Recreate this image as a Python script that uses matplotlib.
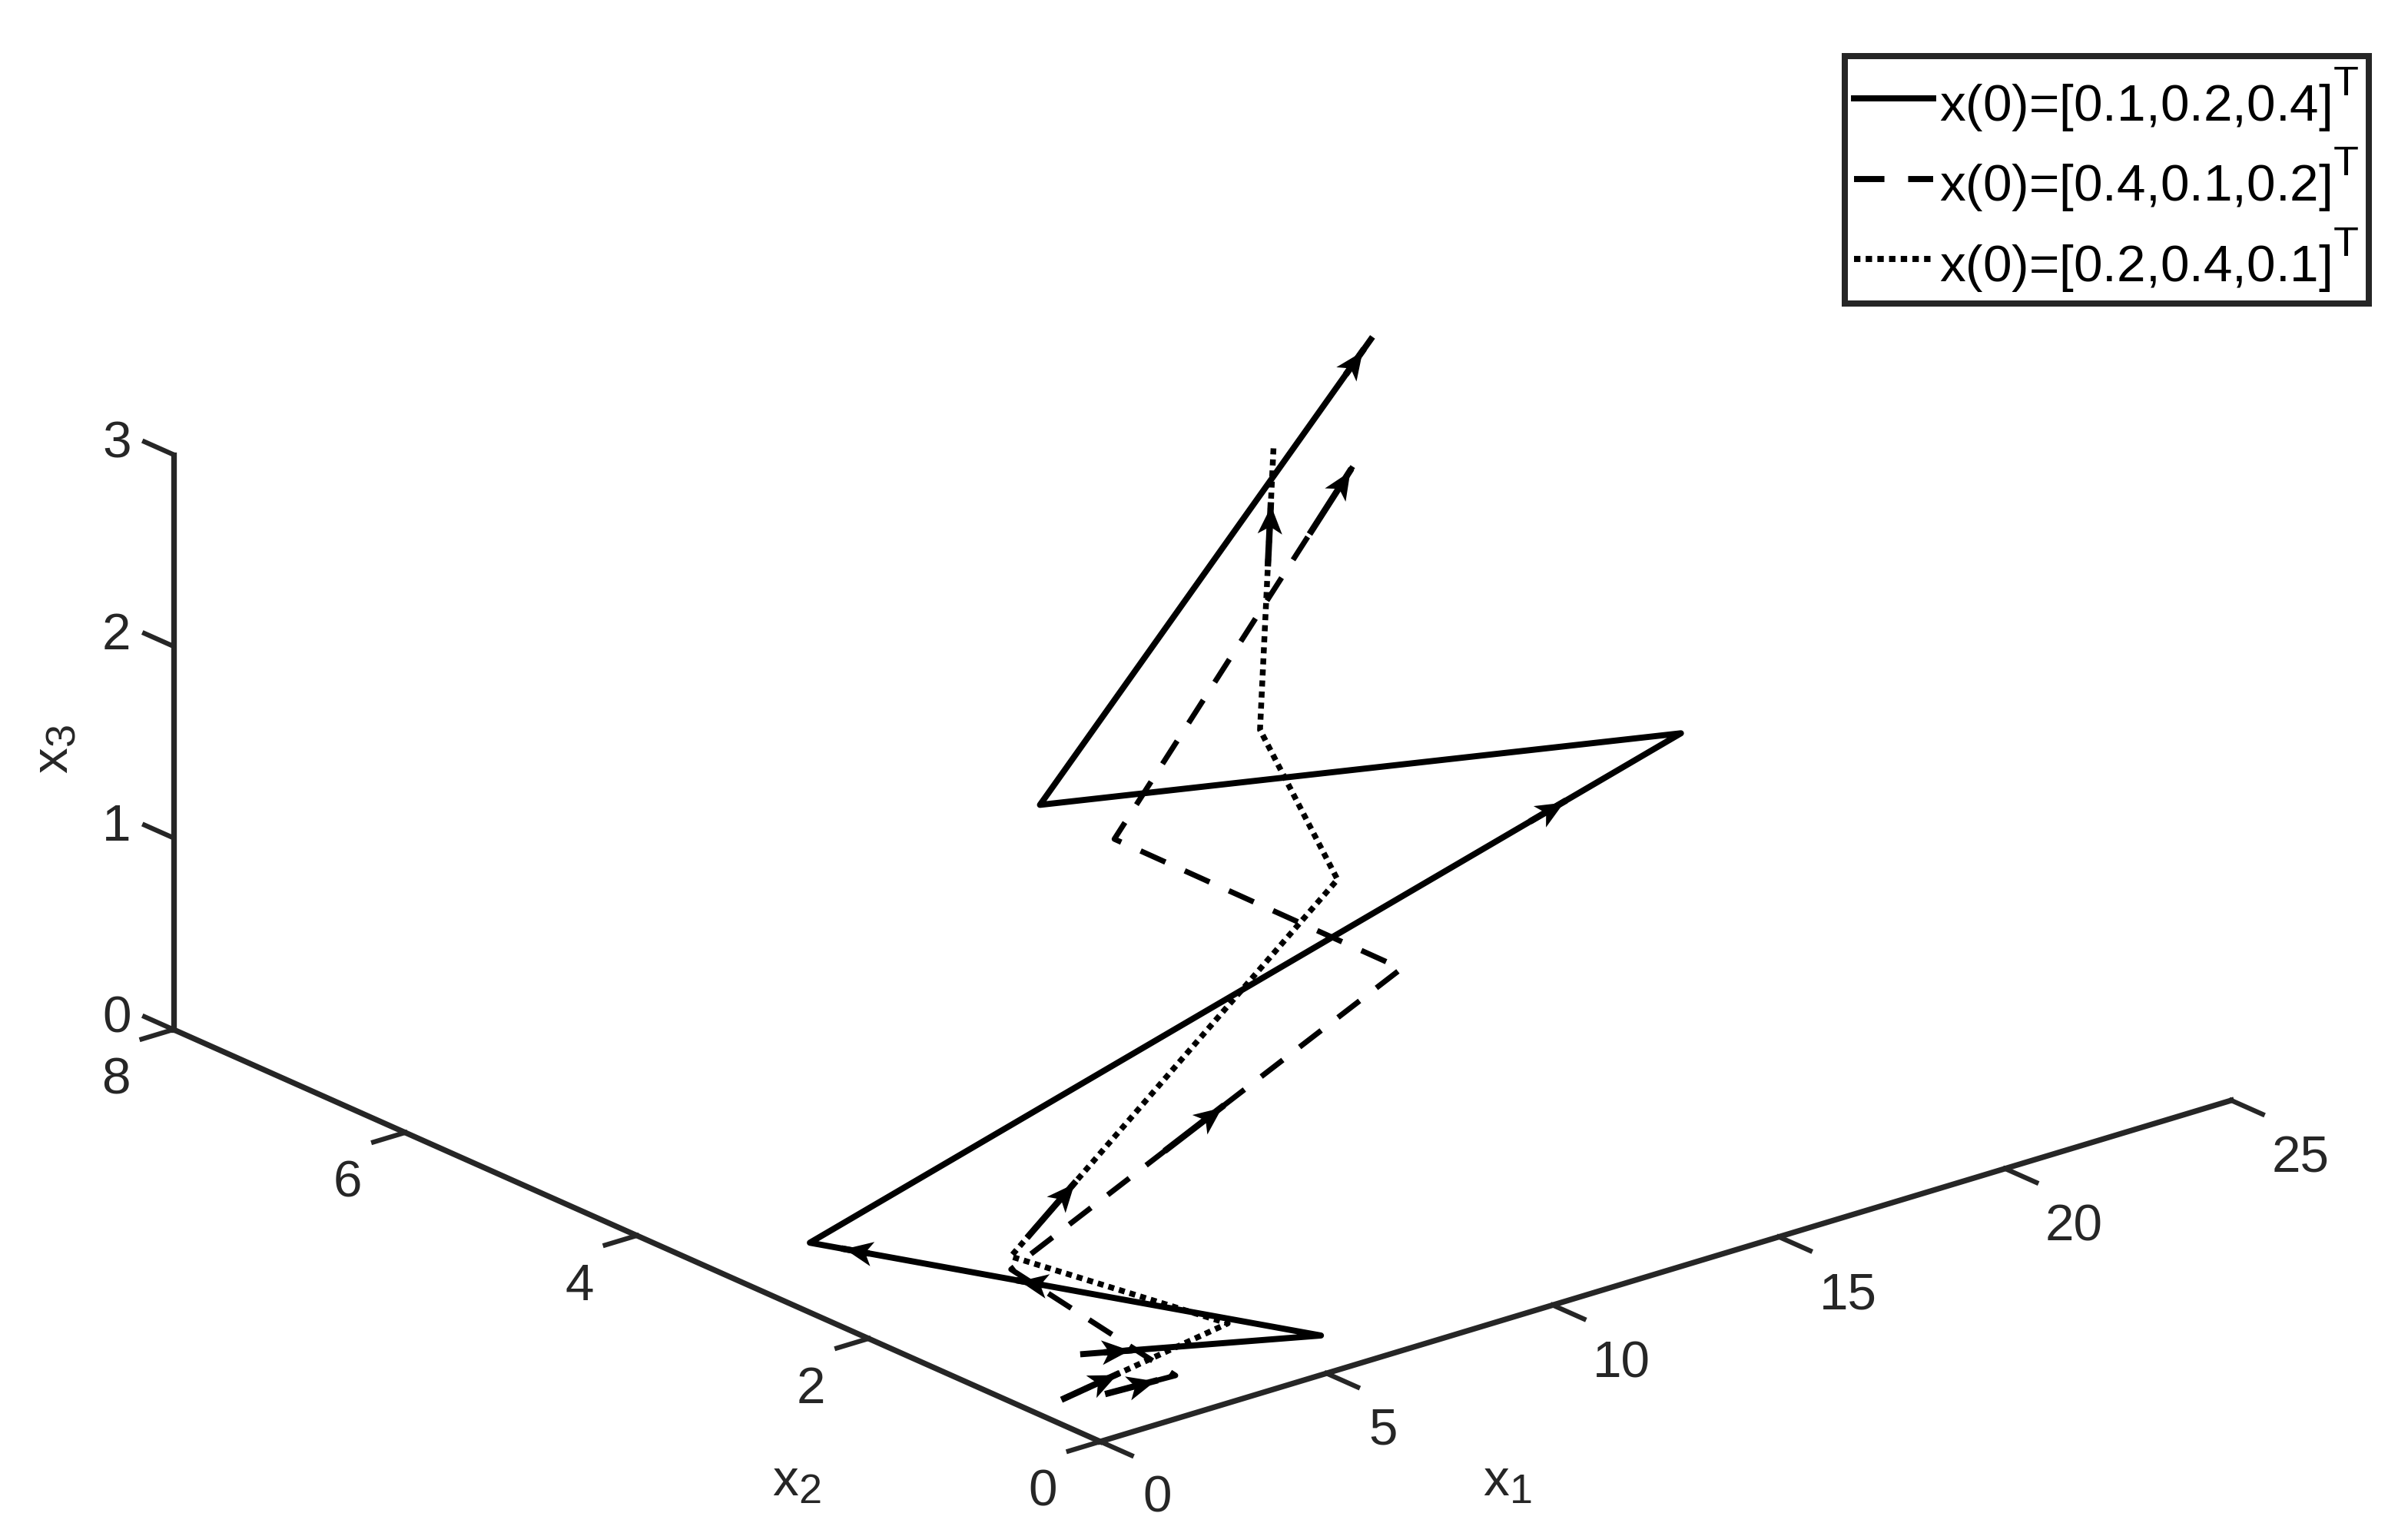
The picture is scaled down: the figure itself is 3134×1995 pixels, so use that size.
import numpy as np
import matplotlib
matplotlib.use("Agg")
import matplotlib._mathtext
import matplotlib.pyplot as plt
from matplotlib.markers import MarkerStyle
from matplotlib.path import Path
from matplotlib.transforms import Affine2D
from mpl_toolkits.mplot3d import proj3d

# trajectories
solid_x1 = [1.80, 5.48, 0.93, 22.95, 9.55, 19.18]
solid_x2 = [0.85, 0.235, 2.87, 3.95, 4.25, 5.155]
solid_x3 = [0.1, 0.1, 0.2, 1.0, 1.5, 3.0]

dashed_x1 = [1.25, 2.38, 2.79, 14.57, 11.22, 16.31]
dashed_x2 = [0.42, 0.28, 1.86, 3.09, 4.26, 4.19]
dashed_x3 = [0.05, 0.1, 0.2, 0.6, 1.2, 2.8]

dotted_x1 = [0.69, 4.61, 3.17, 15.23, 14.67, 15.25]
dotted_x2 = [0.58, 0.70, 2.01, 3.90, 4.35, 4.46]
dotted_x3 = [0.02, 0.1, 0.2, 0.8, 1.5, 2.9]

# arrows: segment, fraction where the tail starts, fraction of the tip
solid_arrows = [(0, 0.10, 0.194), (1, 0.55, 0.59), (1, 0.89, 0.932), (2, 0.83, 0.865), (4, 0.93, 0.974)]
dashed_arrows = [(0, 0.0, 0.69), (2, 0.40, 0.539), (4, 0.826, 0.987)]
dotted_arrows = [(0, 0.0, 0.32), (2, 0.056, 0.193), (4, 0.591, 0.796)]

x1_ticks = [0, 5, 10, 15, 20, 25]
x2_ticks = [0, 2, 4, 6, 8]
x3_ticks = [0, 1, 2, 3]

legend_labels = ["x(0)=[0.1,0.2,0.4]$^{\\mathrm{T}}$",
                 "x(0)=[0.4,0.1,0.2]$^{\\mathrm{T}}$",
                 "x(0)=[0.2,0.4,0.1]$^{\\mathrm{T}}$"]

W, H = 3134, 1995
plt.rcParams["font.family"] = "Liberation Sans"
plt.rcParams["mathtext.fontset"] = "custom"
plt.rcParams["mathtext.rm"] = "Liberation Sans"
plt.rcParams["mathtext.default"] = "regular"
# sub and superscripts are bigger and the T sits higher in the picture
matplotlib._mathtext.SHRINK_FACTOR = 0.8
matplotlib._mathtext.FontConstantsBase.sup1 = 0.95

axis_col = "#262626"
fs = 16.2

fig = plt.figure(figsize=(W / 300, H / 300), dpi=300)
ax = fig.add_subplot(projection="3d", proj_type="ortho")
ax.set_xlim(0, 25)
ax.set_ylim(0, 8)
ax.set_zlim(0, 3)
ax.set_box_aspect((1907, 1897, 804))
ax.view_init(elev=21.48, azim=-129.48, roll=0)
ax.set_axis_off()


def to_2d(x, y, z):
    px, py, _ = proj3d.proj_transform(x, y, z, ax.get_proj())
    return px, py


def label(x, y, z, s, **kw):
    ax.annotate(s, to_2d(x, y, z), xytext=(0, -1.2), textcoords="offset points",
                annotation_clip=False, color=axis_col, fontsize=fs, ha="center", va="center", **kw)


# place the axes so the x1 axis lands where it is in the picture
x0, y0 = to_2d(0, 0, 0)
xe, ye = to_2d(25, 0, 0)
S = (2904 - 1432) / (xe - x0) * 0.185
L = 1432 - (x0 + 0.095) / 0.185 * S
B = (H - 1876) - (y0 + 0.095) / 0.185 * S
ax.set_position([L / W, B / H, S / W, S / H])

# axes box lines
ax.plot([0, 25], [0, 0], [0, 0], color=axis_col, lw=1.75, clip_on=False)
ax.plot([0, 0], [0, 8], [0, 0], color=axis_col, lw=1.75, clip_on=False)
ax.plot([0, 0], [8, 8], [0, 3], color=axis_col, lw=1.75, clip_on=False)

for t in x1_ticks:
    ax.plot([t, t], [0, -0.27], [0, 0], color=axis_col, lw=1.5, clip_on=False)
    off = (-0.73, -0.88) if t >= 10 else (-0.845, -0.82)
    label(t + off[0], off[1], 0, str(t))
for t in x2_ticks:
    ax.plot([0, -0.7], [t, t], [0, 0], color=axis_col, lw=1.5, clip_on=False)
    label(-2.17, t - 0.35, 0, str(t))
for t in x3_ticks:
    ax.plot([0, 0], [8, 8.25], [t, t], color=axis_col, lw=1.5, clip_on=False)
    label(-0.34, 8.358, t, str(t))

label(4.27, -1.85, 0, "x$_1$")
label(-5.09, 0.63, 0, "x$_2$")
label(-1.65, 8.38, 1.5, "x$_3$", rotation=90)

# stealth shaped head, tip at the origin
head = Path([(0, 0), (-1, 0.44), (-0.74, 0), (-1, -0.44), (0, 0)],
            [Path.MOVETO, Path.LINETO, Path.LINETO, Path.LINETO, Path.CLOSEPOLY])


def draw_arrows(xs, ys, zs, arrows):
    for seg, t0, t1 in arrows:
        p = np.array([xs[seg], ys[seg], zs[seg]])
        q = np.array([xs[seg + 1], ys[seg + 1], zs[seg + 1]])
        a = p + t0 * (q - p)
        b = p + t1 * (q - p)
        ax.plot([a[0], b[0]], [a[1], b[1]], [a[2], b[2]], color="black", lw=2.0)
        sx, sy = to_2d(*p)
        ex, ey = to_2d(*q)
        ang = np.degrees(np.arctan2(ey - sy, ex - sx))
        mk = MarkerStyle(head, transform=Affine2D().rotate_deg(ang))
        ax.plot([b[0]], [b[1]], [b[2]], marker=mk, ms=17.5, color="black", mew=0, ls="none")


h1, = ax.plot(solid_x1, solid_x2, solid_x3, color="black", lw=1.9, solid_joinstyle="round")
h2, = ax.plot(dashed_x1, dashed_x2, dashed_x3, color="black", lw=1.7, dashes=(5, 3.9))
h3, = ax.plot(dotted_x1, dotted_x2, dotted_x3, color="black", lw=1.8, dashes=(1.05, 0.87))

draw_arrows(solid_x1, solid_x2, solid_x3, solid_arrows)
draw_arrows(dashed_x1, dashed_x2, dashed_x3, dashed_arrows)
draw_arrows(dotted_x1, dotted_x2, dotted_x3, dotted_arrows)

leg = fig.legend([h1, h2, h3], legend_labels, loc="upper right",
                 bbox_to_anchor=(3083 / W, 1 - 73 / H), bbox_transform=fig.transFigure,
                 fontsize=fs, fancybox=False, framealpha=1, edgecolor=axis_col,
                 handlelength=1.525, handletextpad=0.12, labelspacing=0.24,
                 borderpad=0.18, borderaxespad=0)
leg.get_frame().set_linewidth(1.92)
for t in leg.get_lines():
    t.set_linewidth(1.9)
    t.set_ydata(np.asarray(t.get_ydata()) + 1.35)

fig.savefig("out.png", dpi=300)
